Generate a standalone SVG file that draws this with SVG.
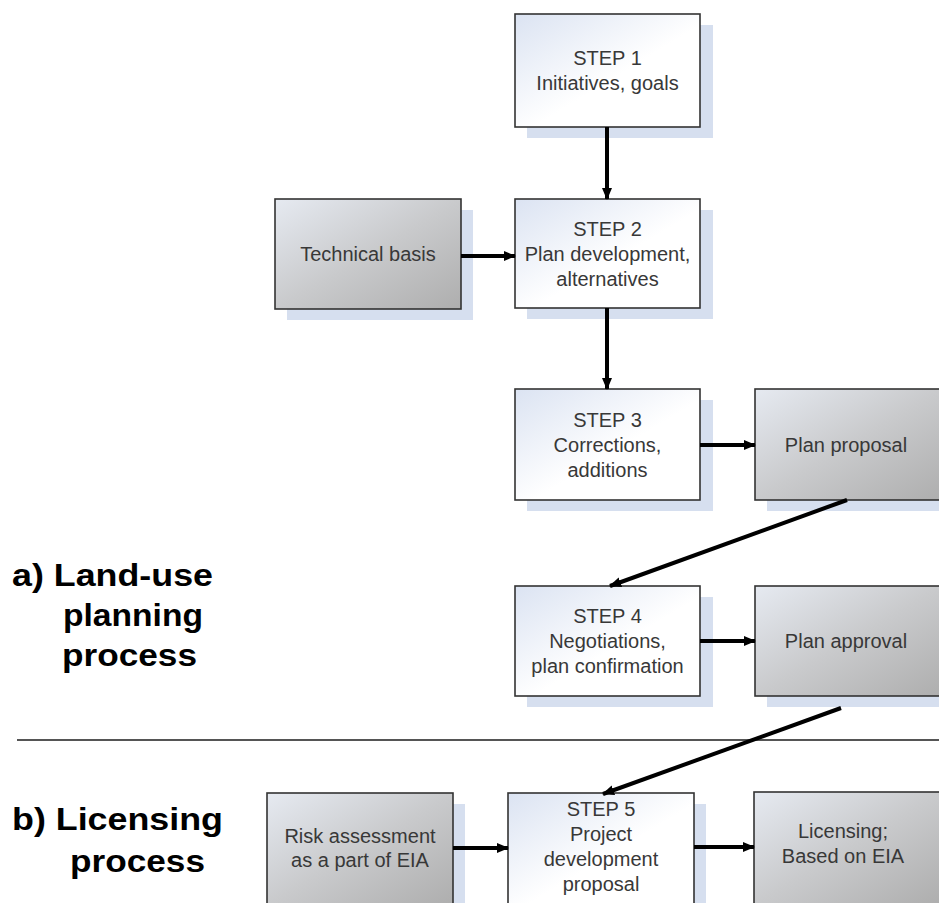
<svg xmlns="http://www.w3.org/2000/svg" width="939" height="903" viewBox="0 0 939 903">
<defs>
<linearGradient id="gw" x1="0" y1="0" x2="1" y2="1">
<stop offset="0" stop-color="#dbe3f2"/>
<stop offset="0.55" stop-color="#ffffff"/>
<stop offset="1" stop-color="#ffffff"/>
</linearGradient>
<linearGradient id="gg" x1="0" y1="0" x2="1" y2="1">
<stop offset="0" stop-color="#e6eaf1"/>
<stop offset="0.5" stop-color="#c9cacc"/>
<stop offset="1" stop-color="#aeaeae"/>
</linearGradient>
<marker id="ah" markerUnits="userSpaceOnUse" markerWidth="12" markerHeight="12" viewBox="0 0 12 12" refX="11" refY="6" orient="auto">
<path d="M0,1 L12,6 L0,11 Z" fill="#000"/>
</marker>
<style>
.sh{fill:#d6dfef}
.bw{fill:url(#gw);stroke:#333;stroke-width:1.6}
.bg{fill:url(#gg);stroke:#333;stroke-width:1.6}
.t{font-family:"Liberation Sans",Arial,sans-serif;font-size:20px;fill:#383838;text-anchor:middle}
.lab{font-family:"Liberation Sans",Arial,sans-serif;font-size:32px;font-weight:bold;fill:#000}
.c{stroke:#000;stroke-width:4;fill:none;marker-end:url(#ah)}
</style>
</defs>
<rect width="939" height="903" fill="#fff"/>

<g id="labels">
<text class="lab" x="12" y="586" textLength="201" lengthAdjust="spacingAndGlyphs">a) Land-use</text>
<text class="lab" x="63" y="626" textLength="140" lengthAdjust="spacingAndGlyphs">planning</text>
<text class="lab" x="62" y="666" textLength="135" lengthAdjust="spacingAndGlyphs">process</text>
<text class="lab" x="12" y="830" textLength="211" lengthAdjust="spacingAndGlyphs">b) Licensing</text>
<text class="lab" x="70" y="872" textLength="135" lengthAdjust="spacingAndGlyphs">process</text>
</g>

<line id="separator" x1="17" y1="740" x2="939" y2="740" stroke="#555" stroke-width="2"/>

<g id="step1">
<rect class="sh" x="527" y="25" width="186" height="113"/>
<rect class="bw" x="515" y="14" width="185" height="113"/>
<text class="t" x="607.5" y="65">STEP 1</text>
<text class="t" x="607.5" y="90">Initiatives, goals</text>
</g>

<g id="technical">
<rect class="sh" x="287" y="210" width="186" height="110"/>
<rect class="bg" x="275" y="199" width="186" height="110"/>
<text class="t" x="368" y="261">Technical basis</text>
</g>

<g id="step2">
<rect class="sh" x="527" y="210" width="186" height="109"/>
<rect class="bw" x="515" y="199" width="185" height="109"/>
<text class="t" x="607.5" y="236">STEP 2</text>
<text class="t" x="607.5" y="261">Plan development,</text>
<text class="t" x="607.5" y="286">alternatives</text>
</g>

<g id="step3">
<rect class="sh" x="527" y="400" width="186" height="111"/>
<rect class="bw" x="515" y="389" width="185" height="111"/>
<text class="t" x="607.5" y="427">STEP 3</text>
<text class="t" x="607.5" y="452">Corrections,</text>
<text class="t" x="607.5" y="477">additions</text>
</g>

<g id="planproposal">
<rect class="sh" x="767" y="400" width="186" height="111"/>
<rect class="bg" x="755" y="389" width="186" height="111"/>
<text class="t" x="846" y="452">Plan proposal</text>
</g>

<g id="step4">
<rect class="sh" x="527" y="597" width="186" height="110"/>
<rect class="bw" x="515" y="586" width="185" height="110"/>
<text class="t" x="607.5" y="623">STEP 4</text>
<text class="t" x="607.5" y="648">Negotiations,</text>
<text class="t" x="607.5" y="673">plan confirmation</text>
</g>

<g id="planapproval">
<rect class="sh" x="767" y="597" width="186" height="110"/>
<rect class="bg" x="755" y="586" width="186" height="110"/>
<text class="t" x="846" y="648">Plan approval</text>
</g>

<g id="risk">
<rect class="sh" x="279" y="804" width="186" height="112"/>
<rect class="bg" x="267" y="793" width="186" height="112"/>
<text class="t" x="360" y="843">Risk assessment</text>
<text class="t" x="360" y="867">as a part of EIA</text>
</g>

<g id="step5">
<rect class="sh" x="520" y="804" width="186" height="112"/>
<rect class="bw" x="508" y="793" width="186" height="112"/>
<text class="t" x="601" y="816">STEP 5</text>
<text class="t" x="601" y="841">Project</text>
<text class="t" x="601" y="866">development</text>
<text class="t" x="601" y="891">proposal</text>
</g>

<g id="licensing">
<rect class="sh" x="766" y="803" width="186" height="112"/>
<rect class="bg" x="754" y="792" width="186" height="112"/>
<text class="t" x="843" y="838">Licensing;</text>
<text class="t" x="843" y="863">Based on EIA</text>
</g>

<g id="connectors">
<line class="c" x1="607" y1="127" x2="607" y2="199"/>
<line class="c" x1="461" y1="256" x2="515" y2="256"/>
<line class="c" x1="607" y1="308" x2="607" y2="389"/>
<line class="c" x1="700" y1="445" x2="755" y2="445"/>
<line class="c" x1="847" y1="500" x2="610" y2="586"/>
<line class="c" x1="700" y1="641" x2="755" y2="641"/>
<line class="c" x1="841" y1="708" x2="603" y2="794"/>
<line class="c" x1="453" y1="848" x2="508" y2="848"/>
<line class="c" x1="694" y1="847" x2="754" y2="847"/>
</g>
</svg>
